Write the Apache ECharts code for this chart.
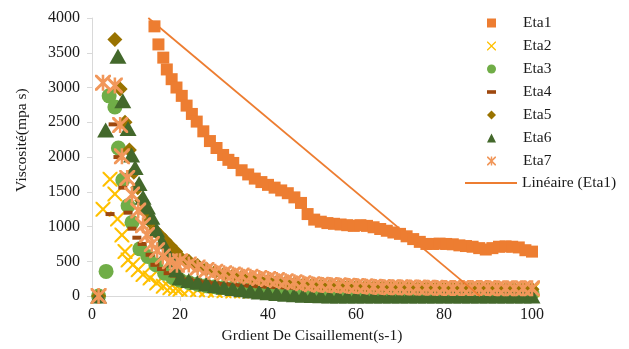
<!DOCTYPE html>
<html>
<head>
<meta charset="utf-8">
<script src="https://cdn.jsdelivr.net/npm/echarts@6/dist/echarts.min.js"></script>
<style>
  html, body { margin: 0; padding: 0; background: #fff; }
  #chart { width: 629px; height: 349px; }
</style>
</head>
<body>
<div id="chart"></div>
<script>
// Viscosité vs gradient de cisaillement, 7 essais + tendance linéaire de Eta1
var seriesNames = ['Eta1', 'Eta2', 'Eta3', 'Eta4', 'Eta5', 'Eta6', 'Eta7'];
var trendName = 'Linéaire (Eta1)';

// Eta1 : [gradient, viscosité]
var eta1 = [
    [14.2,3880],[15.1,3620],[16.2,3430],[17,3260],[18.1,3120],[19.2,3000],[20.4,2880],
    [21.5,2740],[22.7,2620],[23.8,2510],[25.3,2370],[26.8,2230],[28.3,2130],[29.8,2030],
    [31,1960],[32.1,1915],[34,1810],[35.5,1750],[37,1690],[38.5,1640],[40,1600],[41.5,1560],
    [43,1520],[44.5,1480],[46,1420],[47.5,1340],[49,1180],[50.5,1100],[52,1070],[53.5,1050],
    [55,1040],[56.5,1030],[58,1020],[59.5,1010],[61,1020],[62.5,1010],[64,990],[65.5,965],
    [67,940],[68.5,915],[70,895],[71.5,860],[73,820],[74.5,780],[76,750],[77.5,750],
    [79,755],[80.5,750],[82,745],[83.5,730],[85,720],[86.5,710],[88,690],[89.5,670],
    [91,690],[92.5,710],[94,715],[95.5,710],[97,700],[98.5,660],[100,640]
];

// début des courbes Eta2..Eta7 (gradient < 20)
var eta2Head = [[1.5,0],[2.5,1250],[4.1,1680],[5.2,1470],[5.8,1110],[6.8,880],[7.5,640],[8.2,520],
    [9.3,450],[10.5,380],[11.6,310],[13.2,260],[14.7,190],[16.2,140],[17.7,120],[19,110]];
var eta3Head = [[1.5,0],[3.2,355],[3.9,2880],[5.2,2720],[6,2130],[7,1670],[8.2,1300],[9.1,1060],
    [10.9,680],[12.7,570],[14.5,450],[16.5,330],[18.3,270]];
var eta4Head = [[1.5,0],[4.1,1180],[4.8,2470],[5.9,2000],[7,1560],[8.2,1200],[9.1,970],[10.2,840],
    [11.4,750],[13.2,595],[14.3,450],[15.8,390],[17.3,330],[18.7,295]];
var eta5Head = [[1.5,0],[5.2,3690],[6.4,2980],[7.5,2500],[8.5,2100],[9.5,1780],[10.4,1560],
    [11.3,1375],[12.2,1220],[13.1,1080],[14.3,946],[15.5,870],[16.6,800],[17.8,720],[19,640]];
var eta6Head = [[1.5,0],[3.1,2390],[5.9,3450],[7,2810],[8.2,2410],[9,2030],[9.8,1850],[10.7,1620],
    [11.6,1420],[12.6,1280],[13.6,1135],[14.7,950],[15.9,780],[17,640],[18.2,520],[19.2,380]];
var eta7Head = [[1.5,0],[2.5,3070],[5.2,3030],[6.4,2460],[6.8,2010],[8,1700],[9.1,1460],
    [10.5,1230],[11.6,1020],[12.5,880],[13.6,750],[14.8,660],[16.1,570],[17.7,500],[19.3,450]];

// suite des courbes, gradients communs
var shearTail = [20,22,24,26,28,30,32,34,36,38,40,42,44,46,48,50,52,54,56,58,60,
    62,64,66,68,70,72,74,76,78,80,82,84,86,88,90,92,94,96,98,100];
var eta2Tail = [100,95,90,86,82,78,75,72,70,68,66,64,62,61,60,58,57,56,55,54,54,
    53,52,52,51,50,50,49,49,48,48,47,47,47,46,46,45,45,45,44,90];
var eta3Tail = [230,195,170,150,135,122,112,103,96,90,85,80,76,72,69,66,63,61,59,57,55,
    53,52,50,49,48,47,46,45,44,43,42,42,41,40,40,39,39,38,38,37];
var eta4Tail = [270,240,218,200,186,174,164,155,148,141,135,130,125,121,117,113,110,107,104,102,100,
    98,96,94,93,91,90,89,88,87,86,85,84,84,83,82,82,81,81,80,80];
var eta5Tail = [560,500,440,390,350,318,292,270,250,232,216,202,190,178,168,158,150,144,139,135,131,
    128,125,122,120,118,116,114,112,111,110,109,108,107,106,105,104,103,102,101,100];
var eta6Tail = [260,225,200,175,150,128,108,90,74,60,48,37,28,20,13,8,5,3,2,1,0,
    0,0,0,0,0,0,0,0,0,0,0,0,0,0,0,0,0,0,0,0];
var eta7Tail = [500,455,410,375,350,330,310,295,280,262,245,230,215,200,185,172,165,160,155,150,145,
    140,136,132,129,126,124,122,120,119,118,117,116,116,115,115,114,114,113,113,112];

// droite de tendance de Eta1, coupée par le cadre du graphique
var trendLine = [[12.8,4000],[88.2,0]];

var yTicks = { min: 0, max: 4000, interval: 500 };
var xTicks = { min: 0, max: 100, interval: 20 };

function joinTail(head, tail) {
    var out = head.slice();
    for (var i = 0; i < shearTail.length; i++) {
        out.push([shearTail[i], tail[i]]);
    }
    return out;
}

var crossPath = 'path://M0,0 L1,0 L5,4 L9,0 L10,0 L10,1 L6,5 L10,9 L10,10 L9,10 L5,6 L1,10 L0,10 L0,9 L4,5 L0,1 Z';
var starPath = 'path://M0,0 L1.3,0 L5,3.7 L8.7,0 L10,0 L10,1.3 L6.3,5 L10,8.7 L10,10 L8.7,10 L5,6.3 L1.3,10 L0,10 L0,8.7 L3.7,5 L0,1.3 Z M4.2,0 L5.8,0 L5.8,10 L4.2,10 Z';
var dashPath = 'path://M0,0 L10,0 L10,4 L0,4 Z';
var linePath = 'path://M0,0 L52,0 L52,2 L0,2 Z';

var font = 'Liberation Serif';
var axisGray = '#D9D9D9';
var textColor = '#1a1a1a';

var seriesData = [
    eta1,
    joinTail(eta2Head, eta2Tail),
    joinTail(eta3Head, eta3Tail),
    joinTail(eta4Head, eta4Tail),
    joinTail(eta5Head, eta5Tail),
    joinTail(eta6Head, eta6Tail),
    joinTail(eta7Head, eta7Tail)
];
var colors = ['#ED7D31', '#FFC000', '#70AD47', '#9E480E', '#997300', '#43682B', '#F1975A'];
var symbols = ['rect', crossPath, 'circle', dashPath, 'diamond', 'triangle', starPath];
var sizes = [12, 15, 15, [9, 4], 15, [17, 15], 16];

var series = [];
for (var i = 0; i < seriesNames.length; i++) {
    series.push({
        name: seriesNames[i],
        type: 'scatter',
        data: seriesData[i],
        symbol: symbols[i],
        symbolSize: sizes[i],
        clip: false,
        itemStyle: { color: colors[i], opacity: 1 }
    });
}
series.push({
    name: trendName,
    type: 'line',
    data: trendLine,
    symbol: 'none',
    lineStyle: { color: '#ED7D31', width: 1.8 },
    itemStyle: { color: '#ED7D31' },
    z: 5
});

var myChart = echarts.init(document.getElementById('chart'));
option = {
    animation: false,
    backgroundColor: '#fff',
    color: colors,
    textStyle: { fontFamily: font, color: textColor },
    grid: { left: 92, right: 97, top: 18, bottom: 49 },
    legend: [
        {
            data: seriesNames,
            orient: 'vertical',
            left: 482,
            top: 10,
            padding: 5,
            itemWidth: 9,
            itemHeight: 9,
            itemGap: 7,
            textStyle: { fontFamily: font, fontSize: 15.5, color: textColor, lineHeight: 16, padding: [0, 0, 0, 22] }
        },
        {
            data: [{ name: trendName, icon: linePath }],
            orient: 'vertical',
            left: 460,
            top: 170,
            padding: 5,
            itemWidth: 52,
            itemHeight: 9,
            textStyle: { fontFamily: font, fontSize: 15.5, color: textColor, lineHeight: 16 }
        }
    ],
    xAxis: {
        type: 'value',
        min: xTicks.min,
        max: xTicks.max,
        interval: xTicks.interval,
        name: 'Grdient De Cisaillement(s-1)',
        nameLocation: 'middle',
        nameGap: 30,
        nameTextStyle: { fontFamily: font, fontSize: 15.5, color: textColor },
        axisLine: { show: true, lineStyle: { color: axisGray } },
        axisTick: { show: true, length: 5, lineStyle: { color: axisGray } },
        axisLabel: { fontFamily: font, fontSize: 16, color: textColor, margin: 11 },
        splitLine: { show: false }
    },
    yAxis: {
        type: 'value',
        min: yTicks.min,
        max: yTicks.max,
        interval: yTicks.interval,
        name: 'Viscosité(mpa s)',
        nameLocation: 'middle',
        nameRotate: 90,
        nameGap: 62,
        nameTextStyle: { fontFamily: font, fontSize: 15.5, color: textColor, padding: [0, 0, 0, 34] },
        axisLine: { show: true, lineStyle: { color: axisGray } },
        axisTick: { show: true, length: 5, lineStyle: { color: axisGray } },
        axisLabel: {
            fontFamily: font, fontSize: 16, color: textColor, margin: 12,
            formatter: function (v) { return String(v); }
        },
        splitLine: { show: false }
    },
    series: series
};
myChart.setOption(option);
</script>
</body>
</html>
